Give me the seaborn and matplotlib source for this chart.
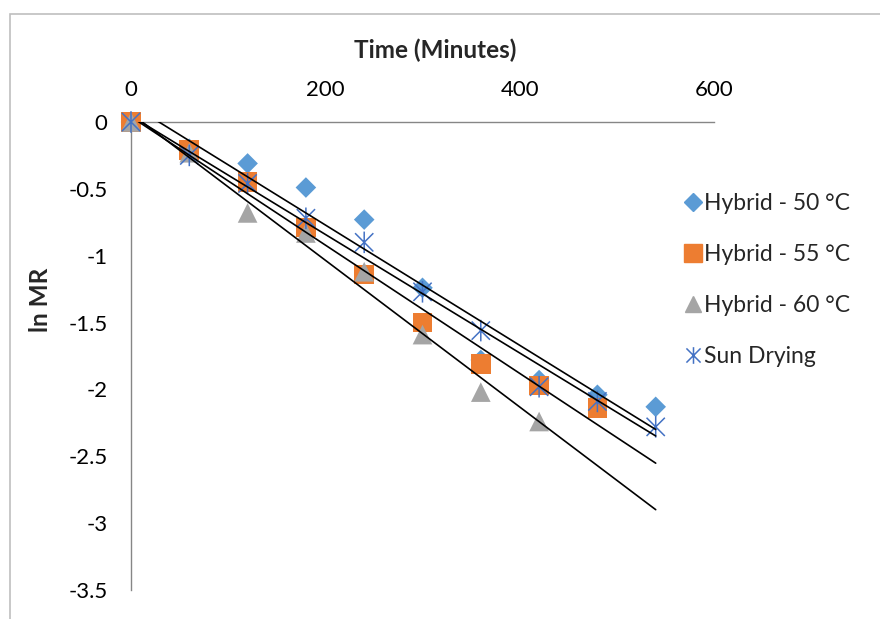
import numpy as np
import pandas as pd
import seaborn as sns
import matplotlib.pyplot as plt
from matplotlib.path import Path
from matplotlib.patches import Rectangle
from matplotlib.lines import Line2D

sns.set_theme(style="white")
plt.rcParams['font.family'] = ['Lato', 'DejaVu Sans']
plt.rcParams['axes.unicode_minus'] = False

# time points (minutes)
time_min = [0, 60, 120, 180, 240, 300, 360, 420, 480, 540]

# ln MR
hybrid_50 = [0, -0.20, -0.31, -0.49, -0.73, -1.24, -1.78, -1.93, -2.04, -2.13]
hybrid_55 = [0, -0.21, -0.45, -0.79, -1.14, -1.50, -1.81, -1.97, -2.14]
hybrid_60 = [0, -0.23, -0.68, -0.83, -1.12, -1.59, -2.02, -2.24]
sun_drying = [0, -0.25, -0.46, -0.72, -0.90, -1.27, -1.56, -1.98, -2.09, -2.28]

series_names = ["Hybrid - 50 °C", "Hybrid - 55 °C", "Hybrid - 60 °C", "Sun Drying"]
series_values = [hybrid_50, hybrid_55, hybrid_60, sun_drying]
colors = ["#5B9BD5", "#ED7D31", "#A5A5A5", "#4472C4"]

x_ticks = [0, 200, 400, 600]
y_ticks = [0, -0.5, -1, -1.5, -2, -2.5, -3, -3.5]
y_tick_labels = ["0", "-0.5", "-1", "-1.5", "-2", "-2.5", "-3", "-3.5"]

# excel style asterisk: vertical stroke plus an X
star = Path([(0, -1), (0, 1), (-0.85, -0.85), (0.85, 0.85), (-0.85, 0.85), (0.85, -0.85)],
            [Path.MOVETO, Path.LINETO, Path.MOVETO, Path.LINETO, Path.MOVETO, Path.LINETO])
markers = ["D", "s", "^", star]
sizes = [110, 200, 200, 240]

fig = plt.figure(figsize=(8.8, 6.19), dpi=100)
fig.patches.append(Rectangle((10 / 880, -0.1), 1.1, 1.1 - 14 / 619, transform=fig.transFigure,
                             fill=False, edgecolor="#BFBFBF", linewidth=1.2))
ax = fig.add_axes([131 / 880, 1 - 590 / 619, (714 - 131) / 880, (590 - 122) / 619])

handles = []
for name, vals, col, mk, sz in zip(series_names, series_values, colors, markers, sizes):
    df = pd.DataFrame({"time": time_min[:len(vals)], "lnmr": vals})
    if mk is star:
        sns.scatterplot(df, x="time", y="lnmr", ax=ax, marker=mk, s=sz, facecolor="none",
                        edgecolor=col, linewidth=1.1, zorder=3, clip_on=False)
        handles.append(Line2D([], [], marker=mk, ls="none", markersize=12, markerfacecolor="none",
                              markeredgecolor=col, markeredgewidth=1.1))
    else:
        sns.scatterplot(df, x="time", y="lnmr", ax=ax, marker=mk, s=sz, color=col,
                        edgecolor="none", zorder=3, clip_on=False)
        handles.append(Line2D([], [], marker=mk, ls="none", color=col,
                              markersize={"D": 9, "s": 13, "^": 12}[mk]))

# linear trendlines, drawn over the full time range
x_fit = np.array([time_min[0], time_min[-1]])
for vals in series_values:
    slope, icpt = np.polyfit(time_min[:len(vals)], vals, 1)
    sns.lineplot(x=x_fit, y=slope * x_fit + icpt, ax=ax, color="black", linewidth=1.2, zorder=4)

ax.set_xlim(0, 600)
ax.set_ylim(-3.5, 0)
ax.xaxis.tick_top()
ax.set_xticks(x_ticks)
ax.set_yticks(y_ticks)
ax.set_yticklabels(y_tick_labels)
ax.tick_params(axis="x", length=0, pad=16, labelsize=16, colors="black")
ax.tick_params(axis="y", length=0, pad=17, labelsize=16, colors="black")
ax.set_xlabel("")
ax.set_ylabel("")
for side in ["bottom", "right"]:
    ax.spines[side].set_visible(False)
for side in ["top", "left"]:
    ax.spines[side].set_color("#868686")
    ax.spines[side].set_linewidth(1.0)

fig.text(435 / 880, 1 - 50 / 619, "Time (Minutes)", ha="center", va="center",
         fontsize=17.5, fontweight="bold")
fig.text(40 / 880, 1 - 300 / 619, "ln MR", ha="center", va="center", rotation=90,
         fontsize=17.5, fontweight="bold")

ax.legend(handles, series_names, loc="upper left", bbox_to_anchor=(670 / 880, 1 - 182 / 619),
          bbox_transform=fig.transFigure, frameon=False, fontsize=16.5, handletextpad=0.0,
          handlelength=1.0, labelspacing=1.3, borderpad=0)

fig.savefig("out.png", dpi=100)
